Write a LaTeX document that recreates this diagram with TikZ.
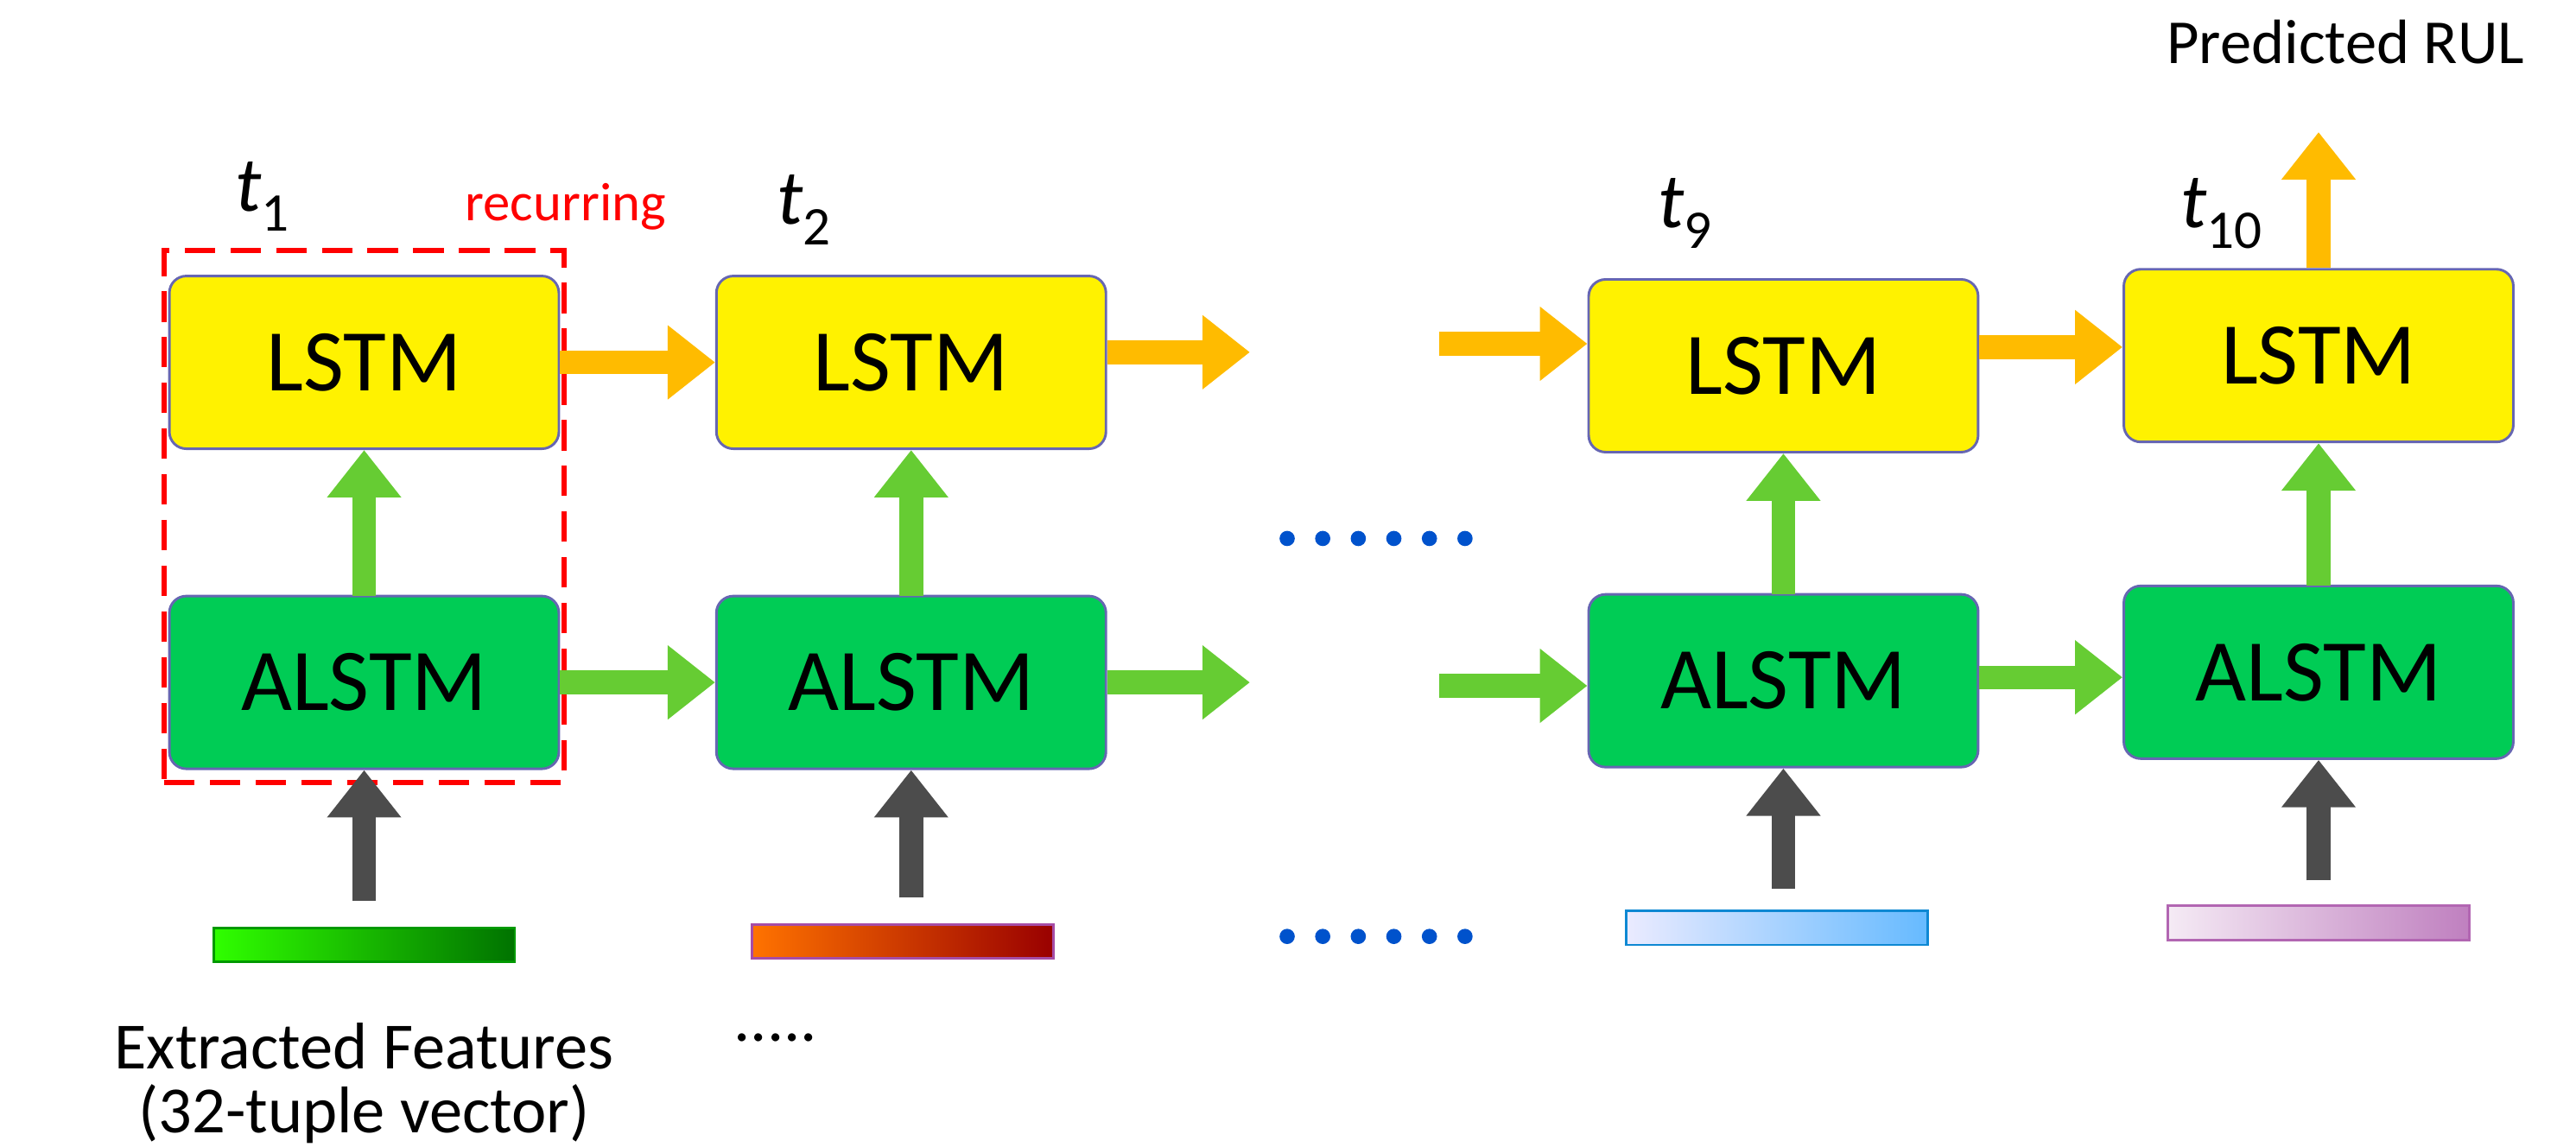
\documentclass[tikz,border=0pt]{standalone}
\usepackage{fontspec}
\setmainfont{Carlito}
\usetikzlibrary{arrows.meta}
\definecolor{ag}{HTML}{00CC55}
\definecolor{gar}{HTML}{66CC33}
\definecolor{oar}{HTML}{FFBB00}
\begin{document}
\begin{tikzpicture}[x=1pt,y=-1pt,
 box/.style={draw=blue!50!black!60,line width=1.5pt,rounded corners=10pt,minimum width=230pt,minimum height=102pt,font=\fontsize{52}{56}\selectfont},
 lstm/.style={box,fill=yellow},
 alstm/.style={box,fill=ag},
 fat/.style={line width=14pt,-{Triangle[length=28pt,width=42pt]}},
 oa/.style={fat,draw=oar},
 ga/.style={fat,draw=gar},
 ka/.style={fat,draw=black!70},
 tl/.style={font=\fontsize{46}{50}\selectfont\itshape},
 bar/.style={minimum width=178pt,minimum height=20pt,line width=1.5pt},
 dot/.style={circle,fill=blue!60!cyan!80!black,inner sep=0pt,minimum size=9pt}]
\useasboundingbox (0,0) rectangle (1521,677);
\node[lstm] (l1) at (215,214) {LSTM};
\node[lstm] (l2) at (538,214) {LSTM};
\node[lstm] (l9) at (1053,216) {LSTM};
\node[lstm] (l10) at (1369,210) {LSTM};
\node[alstm] (a1) at (215,403) {ALSTM};
\node[alstm] (a2) at (538,403) {ALSTM};
\node[alstm] (a9) at (1053,402) {ALSTM};
\node[alstm] (a10) at (1369,397) {ALSTM};
\node[draw=red,dashed,line width=3pt,dash pattern=on 18pt off 9pt,minimum width=236pt,minimum height=314pt] (rec) at (215,305) {};
\node[tl] (t1) at (155,116) {t\textsubscript{\upshape 1}};
\node[text=red,font=\fontsize{32}{36}\selectfont] (rc) at (334,122) {recurring};
\node[tl] (t2) at (475,124) {t\textsubscript{\upshape 2}};
\node[tl] (t9) at (995,126) {t\textsubscript{\upshape 9}};
\node[tl] (t10) at (1312,126) {t\textsubscript{\upshape 10}};
\node[font=\fontsize{37}{40}\selectfont] (pr) at (1385,25) {Predicted RUL};
\coordinate (o2e) at (738,208); \coordinate (o9s) at (850,203);
\coordinate (g2e) at (738,403); \coordinate (g9s) at (850,405);
\coordinate (top) at (1369,78);
\draw[oa] (l1.east) -- (l2.west);
\draw[oa] (l2.east|-o2e) -- (o2e);
\draw[oa] (o9s) -- (l9.west|-o9s);
\draw[oa] (l9.east|-0,205) -- (l10.west|-0,205);
\draw[oa] (l10.north) -- (top);
\draw[ga] (a1.east) -- (a2.west);
\draw[ga] (a2.east) -- (g2e);
\draw[ga] (g9s) -- (a9.west|-g9s);
\draw[ga] (a9.east|-0,400) -- (a10.west|-0,400);
\foreach \n in {1,2,9,10}{\draw[ga] (a\n) ++(0,-51) coordinate (s\n) -- (l\n.south);}
\node[bar,draw=green!60!black,left color=green!75!lime,right color=green!45!black] (f1) at (215,558) {};
\node[bar,draw=violet!70,left color=orange!90!red,right color=red!60!black] (f2) at (533,556) {};
\node[bar,draw=cyan!70!blue,left color=blue!8,right color=blue!45!cyan!60] (f9) at (1049,548) {};
\node[bar,draw=violet!60,left color=violet!8,right color=violet!50] (f10) at (1369,545) {};
\foreach \n/\y in {1/532,2/530,9/525,10/520}{\coordinate (c\n) at (a\n|-0,\y); \draw[ka] (c\n) -- (a\n.south);}
\foreach \i in {0,...,5}{\node[dot] (du\i) at (760+21*\i,318) {}; \node[dot] (dd\i) at (760+21*\i,553) {};}
\node[font=\fontsize{39}{42}\selectfont] (ef) at (215,618) {Extracted Features};
\node[font=\fontsize{39}{42}\selectfont] (tv) at (215,658) {(32-tuple vector)};
\node[font=\fontsize{39}{42}\selectfont] (dd) at (458,613) {.....};
\end{tikzpicture}
\end{document}
